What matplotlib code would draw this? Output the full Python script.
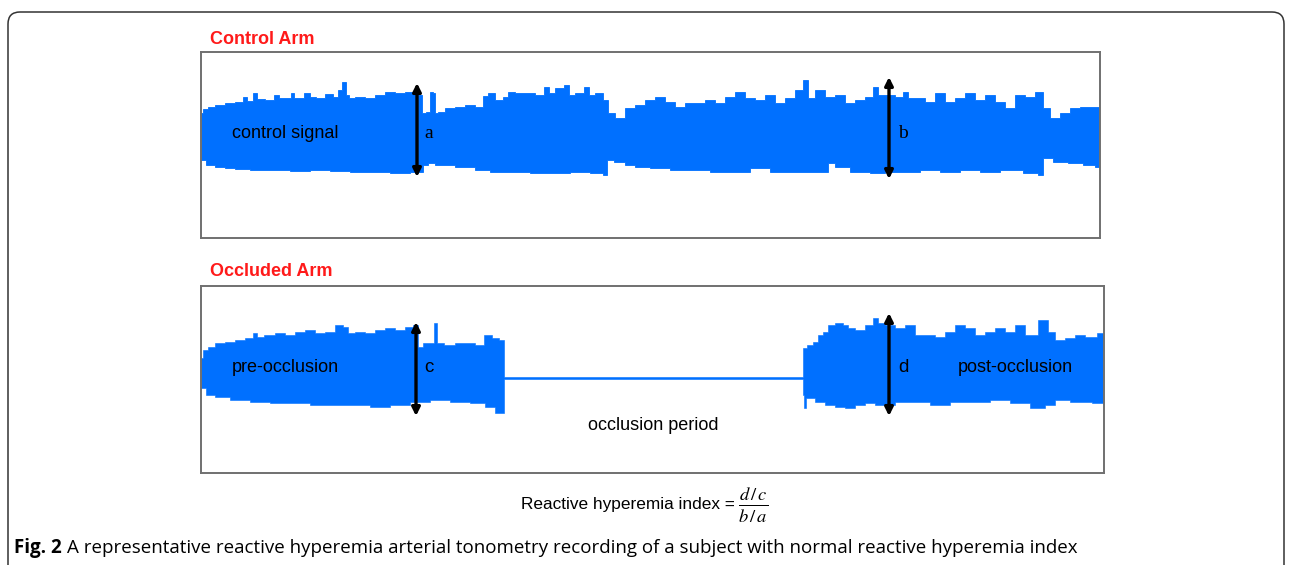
import numpy as np
import matplotlib
matplotlib.use("Agg")
import matplotlib.pyplot as plt
from matplotlib.patches import FancyBboxPatch

# ---------------- data (time in s, amplitude in arbitrary units) ----------------
# Control arm: upper / lower envelope of the tonometry signal
ctrl_up_t = [0, 4, 9, 19, 29, 39, 44, 47, 49, 54, 57, 59, 69, 76, 79, 89, 91, 94, 99, 107, 111, 119, 129,
             134, 139, 143, 146, 149, 159, 169, 179, 189, 199, 209, 219, 222, 228, 230, 233, 235, 239, 249,
             259, 269, 279, 284, 289, 299, 304, 309, 319, 329, 339, 346, 349, 359, 366, 369, 379, 386, 389,
             399, 404, 409, 419, 429, 439, 449, 459, 469, 479, 489, 499, 509, 519, 529, 539, 549, 559, 569,
             579, 589, 599, 604, 609, 619, 629, 639, 649, 659, 669, 674, 679, 689, 699, 704, 709, 719, 729,
             739, 749, 759, 769, 779, 789, 799, 809, 819, 829, 839, 844, 854, 864, 874, 884, 899]
ctrl_up = [21, 25, 27, 29, 31, 32, 37, 33, 33, 41, 35, 35, 34, 39, 36, 36, 41, 36, 36, 41, 37, 36, 40,
           37, 44, 52, 39, 36, 37, 36, 39, 42, 41, 42, 39, 21, 22, 42, 41, 21, 22, 26,
           27, 29, 27, 38, 41, 34, 37, 42, 41, 41, 39, 47, 41, 46, 49, 39, 41, 47, 39,
           41, 34, 21, 16, 26, 29, 34, 37, 32, 27, 31, 31, 34, 31, 37, 42, 36, 34, 39,
           31, 36, 44, 54, 36, 44, 37, 39, 31, 34, 37, 47, 39, 39, 37, 42, 36, 36, 32,
           41, 32, 36, 41, 34, 39, 32, 26, 39, 37, 42, 26, 16, 21, 26, 27, 27]
ctrl_lo_t = [0, 9, 19, 29, 39, 59, 79, 99, 119, 139, 159, 179, 199, 219, 224, 229, 239, 249, 259, 269, 279,
             299, 319, 339, 359, 379, 399, 404, 407, 419, 429, 439, 459, 479, 499, 519, 539, 559, 579, 599,
             624, 629, 639, 659, 679, 689, 709, 729, 749, 769, 789, 809, 834, 840, 844, 859, 874, 889, 899]
ctrl_lo = [-26, -31, -33, -34, -35, -36, -36, -37, -36, -37, -38, -38, -39, -38, -31, -29, -31, -31, -33, -33, -36,
           -38, -38, -39, -39, -38, -39, -41, -26, -28, -31, -33, -34, -36, -36, -38, -38, -34, -38, -38,
           -38, -29, -33, -38, -39, -38, -38, -36, -38, -36, -38, -36, -39, -41, -24, -28, -29, -31, -33]

# Occluded arm: pre-occlusion, occlusion (flat), post-occlusion
occ_up_t = [0, 4, 9, 19, 29, 39, 49, 54, 57, 69, 79, 89, 99, 109, 119, 129, 139, 144, 149, 159, 169, 179,
            189, 199, 209, 214, 219, 224, 231, 234, 237, 249, 259, 269, 279, 287, 294, 302, 304,
            602, 602, 609, 614, 619, 624, 629, 639, 644, 649, 659, 669, 674, 679, 689, 699, 709, 719, 729,
            739, 749, 759, 769, 779, 789, 799, 809, 819, 829, 844, 849, 859, 869, 879, 889, 903]
occ_up = [10, 18, 21, 25, 26, 28, 30, 35, 31, 33, 35, 33, 36, 38, 35, 36, 43, 41, 35, 36, 35, 38,
          40, 38, 41, 43, 21, 25, 25, 45, 25, 23, 25, 25, 23, 33, 30, 28, -9,
          -9, 20, 23, 26, 33, 36, 43, 45, 43, 40, 38, 43, 50, 45, 43, 40, 43, 33, 33,
          31, 36, 43, 40, 33, 36, 40, 36, 43, 33, 48, 36, 28, 30, 33, 31, 35]
occ_lo_t = [0, 9, 19, 39, 59, 79, 99, 119, 139, 159, 179, 199, 219, 239, 259, 279, 289, 299, 302, 304,
            602, 602, 604, 606, 609, 619, 629, 639, 649, 659, 669, 679, 689, 699, 719, 739, 759, 779,
            799, 819, 839, 849, 859, 879, 903]
occ_lo = [-20, -27, -29, -32, -34, -35, -35, -37, -37, -37, -39, -37, -34, -32, -34, -35, -39, -45, -45, -11,
          -11, -27, -40, -30, -30, -34, -37, -39, -40, -37, -35, -37, -37, -34, -34, -37, -34, -34,
          -32, -35, -40, -37, -32, -34, -35]

# amplitude markers (time, top, bottom)
arrow_a = (216, 51, -43)
arrow_b = (688, 57, -45)
arrow_c = (215, 46, -48)
arrow_d = (688, 55, -48)

BLUE = "#0070ff"
RED = "#ff1a1a"
W, H = 1292, 565

fig = plt.figure(figsize=(W / 100, H / 100), dpi=100)
fig.patch.set_facecolor("white")


def fpos(x, y):
    return x / W, 1 - y / H


def panel(x0, y0, x1, y1):
    ax = fig.add_axes([x0 / W, 1 - y1 / H, (x1 - x0) / W, (y1 - y0) / H])
    ax.set_xticks([])
    ax.set_yticks([])
    for s in ax.spines.values():
        s.set_color("#707070")
        s.set_linewidth(1.4)
    return ax


def step_mid(t, v):
    t = np.asarray(t, float)
    v = np.asarray(v, float)
    mids = (t[:-1] + t[1:]) / 2
    xs = [t[0]]
    ys = [v[0]]
    for i in range(len(mids)):
        xs += [mids[i], mids[i]]
        ys += [v[i], v[i + 1]]
    xs.append(t[-1])
    ys.append(v[-1])
    return np.array(xs), np.array(ys)


def env_poly(tu, u, tl, l):
    ux, uy = step_mid(tu, u)
    lx, ly = step_mid(tl, l)
    return np.concatenate([ux, lx[::-1]]), np.concatenate([uy, ly[::-1]])


def amp_arrow(ax, spec):
    t, top, bot = spec
    ax.annotate("", xy=(t, top), xytext=(t, bot),
                arrowprops=dict(arrowstyle="<|-|>", color="black", lw=2.4,
                                mutation_scale=12, shrinkA=0, shrinkB=0))


sans = "Liberation Sans"
serif = "Liberation Serif"
LBL = 13.0

# ---------------- top panel ----------------
ax1 = panel(201, 52, 1100, 238)
ax1.set_xlim(0, 899)
ax1.set_ylim(-104, 82)
xs, ys = env_poly(ctrl_up_t, ctrl_up, ctrl_lo_t, ctrl_lo)
ax1.fill(xs, ys, color=BLUE, lw=0.6, ec=BLUE)
amp_arrow(ax1, arrow_a)
amp_arrow(ax1, arrow_b)
ax1.text(31, 1, "control signal", family=sans, fontsize=LBL, va="center", ha="left")
ax1.text(228, 1, "a", family=serif, fontsize=14, va="center", ha="center")
ax1.text(702, 1, "b", family=serif, fontsize=14, va="center", ha="center")

# ---------------- bottom panel ----------------
ax2 = panel(201, 286, 1104, 473)
ax2.set_xlim(0, 903)
ax2.set_ylim(-105, 82)
xs, ys = env_poly(occ_up_t, occ_up, occ_lo_t, occ_lo)
ax2.fill(xs, ys, color=BLUE, lw=0.4, ec=BLUE)
amp_arrow(ax2, arrow_c)
amp_arrow(ax2, arrow_d)
ax2.text(31, 0, "pre-occlusion", family=sans, fontsize=LBL, va="center", ha="left")
ax2.text(228, 0, "c", family=sans, fontsize=13.5, va="center", ha="center")
ax2.text(702, 0, "d", family=sans, fontsize=13.5, va="center", ha="center")
ax2.text(757, 0, "post-occlusion", family=sans, fontsize=LBL, va="center", ha="left")
ax2.text(452, -57, "occlusion period", family=sans, fontsize=LBL, va="center", ha="center")

# ---------------- titles ----------------
fig.text(*fpos(210, 39), "Control Arm", color=RED, family=sans, fontweight="bold",
         fontsize=13.0, va="center", ha="left")
fig.text(*fpos(210, 271), "Occluded Arm", color=RED, family=sans, fontweight="bold",
         fontsize=13.0, va="center", ha="left")

# ---------------- formula ----------------
fig.text(*fpos(735, 505), "Reactive hyperemia index =", family=sans, fontsize=12.4,
         va="center", ha="right")
fig.text(*fpos(738, 505), r"$\frac{d\,/\,c}{b\,/\,a}$", fontsize=19, va="center", ha="left",
         math_fontfamily="stix")

# ---------------- caption ----------------
renderer = fig.canvas.get_renderer()
cap_fs = 13.5
t1 = fig.text(*fpos(14, 548), "Fig. 2", family="Open Sans", fontweight="bold",
              fontsize=cap_fs, va="center", ha="left")
bb = t1.get_window_extent(renderer)
fig.text((bb.x1 + 5) / W, 1 - 548 / H,
         "A representative reactive hyperemia arterial tonometry recording of a subject with normal reactive hyperemia index",
         family="Open Sans", fontsize=cap_fs, va="center", ha="left")

# ---------------- outer frame ----------------
frame = FancyBboxPatch((8, -30), 1276, H - 12 + 30, boxstyle="round,pad=0,rounding_size=12",
                       transform=None, fill=False, ec="#333333", lw=1.1)
fig.add_artist(frame)

fig.savefig("out.png", dpi=100, facecolor="white")
